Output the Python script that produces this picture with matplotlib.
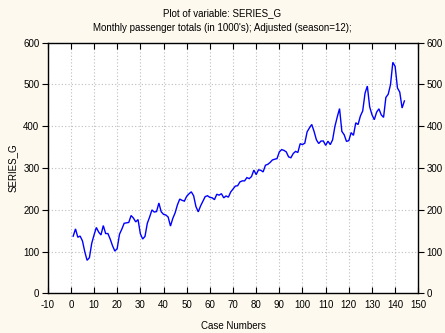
import matplotlib
matplotlib.use("Agg")
import matplotlib.pyplot as plt
from matplotlib.ticker import MultipleLocator

# Seasonally adjusted monthly passenger totals (thousands), cases 1..144
case_numbers = list(range(1, 145))
series_g = [
    136.7, 154.2, 134.2, 137.0, 125.5, 99.6, 79.0, 85.2, 119.5, 139.6, 157.6, 146.6,
    139.7, 162.2, 143.2, 143.0, 129.5, 113.6, 101.0, 107.2, 141.5, 153.6, 167.6, 168.6,
    169.7, 186.2, 180.2, 171.0, 176.5, 142.6, 130.0, 136.2, 167.5, 182.6, 199.6, 194.6,
    195.7, 216.2, 195.2, 189.0, 187.5, 182.6, 161.0, 179.2, 192.5, 211.6, 225.6, 222.6,
    220.7, 232.2, 238.2, 243.0, 233.5, 207.6, 195.0, 209.2, 220.5, 231.6, 233.6, 229.6,
    228.7, 224.2, 237.2, 235.0, 238.5, 228.6, 233.0, 230.2, 242.5, 249.6, 256.6, 257.6,
    266.7, 269.2, 269.2, 277.0, 274.5, 279.6, 295.0, 284.2, 295.5, 294.6, 290.6, 306.6,
    308.7, 313.2, 319.2, 321.0, 322.5, 338.6, 344.0, 342.2, 338.5, 326.6, 324.6, 334.6,
    339.7, 337.2, 358.2, 356.0, 359.5, 386.6, 396.0, 404.2, 387.5, 367.6, 358.6, 364.6,
    364.7, 354.2, 364.2, 356.0, 367.5, 399.6, 422.0, 442.2, 387.5, 379.6, 363.6, 365.6,
    384.7, 378.2, 408.2, 404.0, 424.5, 436.6, 479.0, 496.2, 446.5, 427.6, 415.6, 433.6,
    441.7, 427.2, 421.2, 469.0, 476.5, 499.6, 553.0, 543.2, 491.5, 481.6, 443.6, 460.6,
]

title_line1 = "Plot of variable: SERIES_G"
title_line2 = "Monthly passenger totals (in 1000's); Adjusted (season=12);"
x_label = "Case Numbers"
y_label = "SERIES_G"

plt.rcParams["font.family"] = ["Liberation Sans", "DejaVu Sans"]
plt.rcParams["axes.unicode_minus"] = False
FS = 7

bg = "#fdf9ee"
fig = plt.figure(figsize=(4.45, 3.33), dpi=100, facecolor=bg)
ax = fig.add_axes([0.1072, 0.1192, 0.8328, 0.7526])
ax.set_facecolor("white")

ax.plot(case_numbers, series_g, color="#0000ff", lw=1.0, solid_joinstyle="miter")

ax.set_xlim(-10, 150)
ax.set_ylim(0, 600)
ax.xaxis.set_major_locator(MultipleLocator(10))
ax.yaxis.set_major_locator(MultipleLocator(100))

ax.grid(True, color="#bdbdbd", linestyle=(0, (1, 2)), linewidth=0.8)
ax.set_axisbelow(True)

for s in ax.spines.values():
    s.set_color("black")
    s.set_linewidth(1.0)

ax.tick_params(axis="x", which="major", direction="in", top=True, bottom=True,
               length=4, width=0.8, labelsize=FS, pad=5, colors="black")
ax.tick_params(axis="y", which="major", direction="out", left=True, right=True,
               labelleft=True, labelright=True, length=4, width=0.8,
               labelsize=FS, pad=2, colors="black")

ax.set_xlabel(x_label, fontsize=FS, labelpad=8)
ax.set_ylabel(y_label, fontsize=FS, labelpad=4)

fig.text(0.5, 1 - 13 / 333, title_line1, ha="center", va="center", fontsize=FS)
fig.text(0.5, 1 - 28 / 333, title_line2, ha="center", va="center", fontsize=FS)

fig.savefig("out.png", dpi=100, facecolor=bg)
